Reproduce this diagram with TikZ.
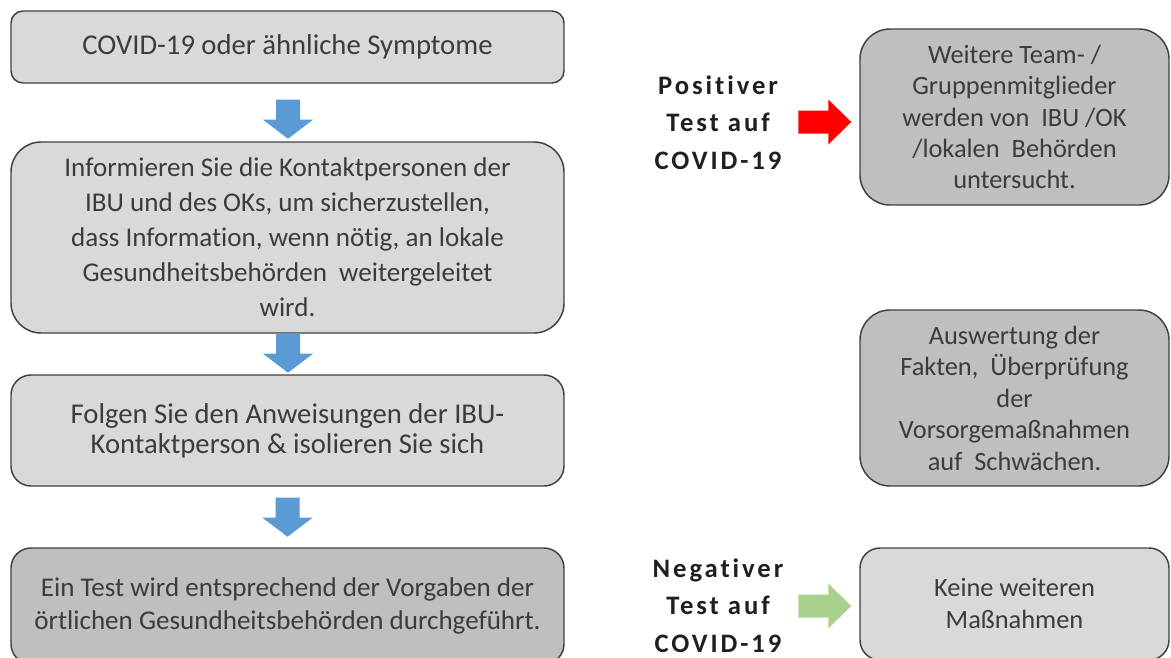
\documentclass[tikz,border=0pt]{standalone}
\usepackage{fontspec}
\setmainfont{Carlito}[Ligatures=NoCommon]
\newfontfamily\spacedfont[LetterSpace=11,Ligatures=NoCommon]{Carlito}
\usetikzlibrary{calc}

\definecolor{boxlight}{RGB}{217,217,217}
\definecolor{boxdark}{RGB}{191,191,191}
\definecolor{boxline}{RGB}{64,64,64}
\definecolor{boxtext}{RGB}{60,60,60}
\definecolor{stepblue}{RGB}{91,155,213}
\definecolor{posred}{RGB}{255,0,0}
\definecolor{neggreen}{RGB}{169,209,142}

\tikzset{
  flowbox/.style={draw=boxline, line width=1.1pt, text=boxtext, align=center, inner sep=0pt,
    font=\fontsize{19.8}{23.6}\selectfont},
  testlabel/.style={align=center, text=black!88, inner sep=0pt,
    font=\spacedfont\bfseries\fontsize{20}{28}\selectfont},
  pics/downarrow/.style={code={
    \fill[stepblue] (-12,0) -- (-12,20) -- (-25,20) -- (0,39) -- (25,20) -- (12,20) -- (12,0) -- cycle;}},
  pics/rightarrow/.style={code={
    \fill[#1] (0,-11.5) -- (30,-11.5) -- (30,-22.5) -- (53,0) -- (30,22.5) -- (30,11.5) -- (0,11.5) -- cycle;}}
}

\begin{document}
\begin{tikzpicture}[x=0.75pt,y=0.75pt,yscale=-1,xscale=1]
\useasboundingbox (0,0) rectangle (1171,657);
\clip (0,0) rectangle (1171,657);

%Left column
\node (sym) [flowbox, fill=boxlight, rounded corners=9pt, minimum width=414.75pt, minimum height=54pt,
  font=\fontsize{21.5}{24}\selectfont] at (287.5,47) {COVID-19 oder ähnliche Symptome};
\node (info) [flowbox, fill=boxlight, rounded corners=22.5pt, minimum width=414.75pt, minimum height=143.25pt,
  font=\fontsize{20.3}{26.25}\selectfont] at (287.5,237.5)
  {Informieren Sie die Kontaktpersonen der\\IBU und des OKs, um sicherzustellen,\\dass Information, wenn nötig, an lokale\\Gesundheitsbehörden~ weitergeleitet\\wird.};
\node (follow) [flowbox, fill=boxlight, rounded corners=15pt, minimum width=414.75pt, minimum height=83.25pt,
  font=\fontsize{21.5}{22.5}\selectfont] at (287.5,430.5)
  {Folgen Sie den Anweisungen der IBU-\\Kontaktperson \& isolieren Sie sich};
\node (test) [flowbox, fill=boxdark, rounded corners=15pt, minimum width=414.75pt, minimum height=87pt,
  font=\fontsize{20.3}{24.75}\selectfont] at (287.5,606)
  {Ein Test wird entsprechend der Vorgaben der\\örtlichen Gesundheitsbehörden durchgeführt.};

%Right column
\node (contact) [flowbox, fill=boxdark, rounded corners=22.5pt, minimum width=231.75pt, minimum height=132pt] at (1014.5,117)
  {Weitere Team- /\\Gruppenmitglieder\\werden von~ IBU /OK\\/lokalen~ Behörden\\untersucht.};
\node (review) [flowbox, fill=boxdark, rounded corners=22.5pt, minimum width=231.75pt, minimum height=132pt] at (1014.5,398)
  {Auswertung der\\Fakten,~ Überprüfung\\der\\Vorsorgemaßnahmen\\auf~ Schwächen.};
\node (none) [flowbox, fill=boxlight, rounded corners=15pt, minimum width=231.75pt, minimum height=84pt,
  font=\fontsize{19.8}{24}\selectfont] at (1014.5,604)
  {Keine weiteren\\Maßnahmen};

% Text Node
\node (pos) [testlabel] at (718,122.5) {Positiver\\Test auf\\COVID-19};
% Text Node
\node (neg) [testlabel] at (718,605.5) {Negativer\\Test auf\\COVID-19};

%Block arrows
\pic [transform shape] at ($(sym.south)+(0.5,16)$) {downarrow};
\pic [transform shape] at ($(info.south)+(0.5,0)$) {downarrow};
\pic [transform shape] at ($(follow.south)+(0,11)$) {downarrow};
\pic [transform shape] at ($(contact.west)+(-61,5)$) {rightarrow=posred};
\pic [transform shape] at ($(none.west)+(-61,2)$) {rightarrow=neggreen};

\end{tikzpicture}
\end{document}
